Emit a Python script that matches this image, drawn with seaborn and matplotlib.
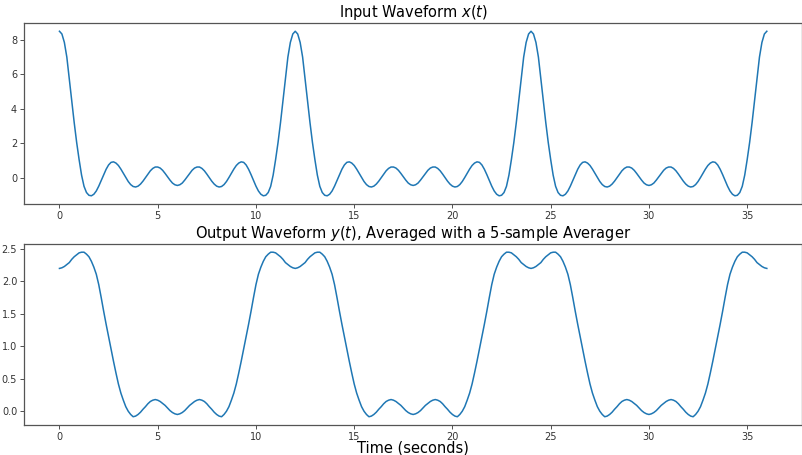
import numpy as np
import matplotlib
matplotlib.use("Agg")
import matplotlib.pyplot as plt
import seaborn as sns

# Input waveform x(t), every 0.125 s from 0 to 36 s
x_vals = [
    8.50,
    # 0.125 .. 12
    8.34, 7.85, 7.00, 5.72, 4.45, 3.20, 2.05, 1.05, 0.15, -0.50, -0.86, -1.02,
    -1.05, -0.96, -0.77, -0.49, -0.16, 0.18, 0.49, 0.74, 0.89, 0.92, 0.85, 0.71,
    0.50, 0.26, 0.01, -0.22, -0.40, -0.51, -0.54, -0.49, -0.37, -0.20, 0.00, 0.21,
    0.40, 0.54, 0.62, 0.62, 0.56, 0.43, 0.25, 0.05, -0.14, -0.31, -0.41, -0.45,
    -0.41, -0.31, -0.14, 0.05, 0.25, 0.43, 0.56, 0.62, 0.62, 0.54, 0.40, 0.21,
    0.00, -0.20, -0.37, -0.49, -0.54, -0.51, -0.40, -0.22, 0.01, 0.26, 0.50, 0.71,
    0.85, 0.92, 0.89, 0.74, 0.49, 0.18, -0.16, -0.49, -0.77, -0.96, -1.05, -1.02,
    -0.86, -0.50, 0.15, 1.05, 2.05, 3.20, 4.45, 5.72, 7.00, 7.85, 8.34, 8.50,
    # 12.125 .. 24
    8.34, 7.85, 7.00, 5.72, 4.45, 3.20, 2.05, 1.05, 0.15, -0.50, -0.86, -1.02,
    -1.05, -0.96, -0.77, -0.49, -0.16, 0.18, 0.49, 0.74, 0.89, 0.92, 0.85, 0.71,
    0.50, 0.26, 0.01, -0.22, -0.40, -0.51, -0.54, -0.49, -0.37, -0.20, 0.00, 0.21,
    0.40, 0.54, 0.62, 0.62, 0.56, 0.43, 0.25, 0.05, -0.14, -0.31, -0.41, -0.45,
    -0.41, -0.31, -0.14, 0.05, 0.25, 0.43, 0.56, 0.62, 0.62, 0.54, 0.40, 0.21,
    0.00, -0.20, -0.37, -0.49, -0.54, -0.51, -0.40, -0.22, 0.01, 0.26, 0.50, 0.71,
    0.85, 0.92, 0.89, 0.74, 0.49, 0.18, -0.16, -0.49, -0.77, -0.96, -1.05, -1.02,
    -0.86, -0.50, 0.15, 1.05, 2.05, 3.20, 4.45, 5.72, 7.00, 7.85, 8.34, 8.50,
    # 24.125 .. 36
    8.34, 7.85, 7.00, 5.72, 4.45, 3.20, 2.05, 1.05, 0.15, -0.50, -0.86, -1.02,
    -1.05, -0.96, -0.77, -0.49, -0.16, 0.18, 0.49, 0.74, 0.89, 0.92, 0.85, 0.71,
    0.50, 0.26, 0.01, -0.22, -0.40, -0.51, -0.54, -0.49, -0.37, -0.20, 0.00, 0.21,
    0.40, 0.54, 0.62, 0.62, 0.56, 0.43, 0.25, 0.05, -0.14, -0.31, -0.41, -0.45,
    -0.41, -0.31, -0.14, 0.05, 0.25, 0.43, 0.56, 0.62, 0.62, 0.54, 0.40, 0.21,
    0.00, -0.20, -0.37, -0.49, -0.54, -0.51, -0.40, -0.22, 0.01, 0.26, 0.50, 0.71,
    0.85, 0.92, 0.89, 0.74, 0.49, 0.18, -0.16, -0.49, -0.77, -0.96, -1.05, -1.02,
    -0.86, -0.50, 0.15, 1.05, 2.05, 3.20, 4.45, 5.72, 7.00, 7.85, 8.34, 8.50,
]

# Output waveform y(t) after the 5-sample averager, same sampling
y_vals = [
    2.20,
    # 0.125 .. 12
    2.21, 2.23, 2.26, 2.29, 2.34, 2.38, 2.41, 2.44, 2.45, 2.45, 2.42, 2.38,
    2.31, 2.22, 2.11, 1.95, 1.75, 1.54, 1.34, 1.15, 0.96, 0.77, 0.59, 0.42,
    0.28, 0.17, 0.07, 0.00, -0.05, -0.085, -0.075, -0.05, -0.015, 0.03, 0.07, 0.115,
    0.15, 0.17, 0.18, 0.17, 0.15, 0.12, 0.09, 0.05, 0.01, -0.02, -0.04, -0.05,
    -0.04, -0.02, 0.01, 0.05, 0.09, 0.12, 0.15, 0.17, 0.18, 0.17, 0.15, 0.115,
    0.07, 0.03, -0.015, -0.05, -0.075, -0.085, -0.05, 0.00, 0.07, 0.17, 0.28, 0.42,
    0.59, 0.77, 0.96, 1.15, 1.34, 1.54, 1.75, 1.95, 2.11, 2.22, 2.31, 2.38,
    2.42, 2.45, 2.45, 2.44, 2.41, 2.38, 2.34, 2.29, 2.26, 2.23, 2.21, 2.20,
    # 12.125 .. 24
    2.21, 2.23, 2.26, 2.29, 2.34, 2.38, 2.41, 2.44, 2.45, 2.45, 2.42, 2.38,
    2.31, 2.22, 2.11, 1.95, 1.75, 1.54, 1.34, 1.15, 0.96, 0.77, 0.59, 0.42,
    0.28, 0.17, 0.07, 0.00, -0.05, -0.085, -0.075, -0.05, -0.015, 0.03, 0.07, 0.115,
    0.15, 0.17, 0.18, 0.17, 0.15, 0.12, 0.09, 0.05, 0.01, -0.02, -0.04, -0.05,
    -0.04, -0.02, 0.01, 0.05, 0.09, 0.12, 0.15, 0.17, 0.18, 0.17, 0.15, 0.115,
    0.07, 0.03, -0.015, -0.05, -0.075, -0.085, -0.05, 0.00, 0.07, 0.17, 0.28, 0.42,
    0.59, 0.77, 0.96, 1.15, 1.34, 1.54, 1.75, 1.95, 2.11, 2.22, 2.31, 2.38,
    2.42, 2.45, 2.45, 2.44, 2.41, 2.38, 2.34, 2.29, 2.26, 2.23, 2.21, 2.20,
    # 24.125 .. 36
    2.21, 2.23, 2.26, 2.29, 2.34, 2.38, 2.41, 2.44, 2.45, 2.45, 2.42, 2.38,
    2.31, 2.22, 2.11, 1.95, 1.75, 1.54, 1.34, 1.15, 0.96, 0.77, 0.59, 0.42,
    0.28, 0.17, 0.07, 0.00, -0.05, -0.085, -0.075, -0.05, -0.015, 0.03, 0.07, 0.115,
    0.15, 0.17, 0.18, 0.17, 0.15, 0.12, 0.09, 0.05, 0.01, -0.02, -0.04, -0.05,
    -0.04, -0.02, 0.01, 0.05, 0.09, 0.12, 0.15, 0.17, 0.18, 0.17, 0.15, 0.115,
    0.07, 0.03, -0.015, -0.05, -0.075, -0.085, -0.05, 0.00, 0.07, 0.17, 0.28, 0.42,
    0.59, 0.77, 0.96, 1.15, 1.34, 1.54, 1.75, 1.95, 2.11, 2.22, 2.31, 2.38,
    2.42, 2.45, 2.45, 2.44, 2.41, 2.38, 2.34, 2.29, 2.26, 2.23, 2.21, 2.20,
]

t_start, t_end = 0.0, 36.0
t_vals = np.linspace(t_start, t_end, len(x_vals))

x_ticks = [0, 5, 10, 15, 20, 25, 30, 35]
top_yticks = [0, 2, 4, 6, 8]
bot_yticks = [0.0, 0.5, 1.0, 1.5, 2.0, 2.5]

top_title = "Input Waveform $x(t)$"
bot_title = "Output Waveform $y(t)$, Averaged with a 5-sample Averager"
x_label = "Time (seconds)"

fig = plt.figure(figsize=(8.03, 4.55), dpi=100)
ax1 = fig.add_axes([0.030, 0.5516, 0.969, 0.3978])
ax2 = fig.add_axes([0.030, 0.066, 0.969, 0.3978])

color = "#1f77b4"
sns.lineplot(x=t_vals, y=x_vals, ax=ax1, color=color, linewidth=1.1)
sns.lineplot(x=t_vals, y=y_vals, ax=ax2, color=color, linewidth=1.1)

for ax, yt in ((ax1, top_yticks), (ax2, bot_yticks)):
    ax.set_xticks(x_ticks)
    ax.set_yticks(yt)
    ax.tick_params(labelsize=7, colors="#333333", length=3, width=0.6, pad=2)
    for sp in ax.spines.values():
        sp.set_color("#555555")
        sp.set_linewidth(0.9)

ax1.set_title(top_title, fontsize=10.5, pad=4)
ax2.set_title(bot_title, fontsize=10.5, pad=4)
ax2.set_xlabel(x_label, fontsize=10.5)
ax2.xaxis.set_label_coords(0.5, -0.13)
ax2.xaxis.label.set_verticalalignment("center")

fig.savefig("out.png", dpi=100)
